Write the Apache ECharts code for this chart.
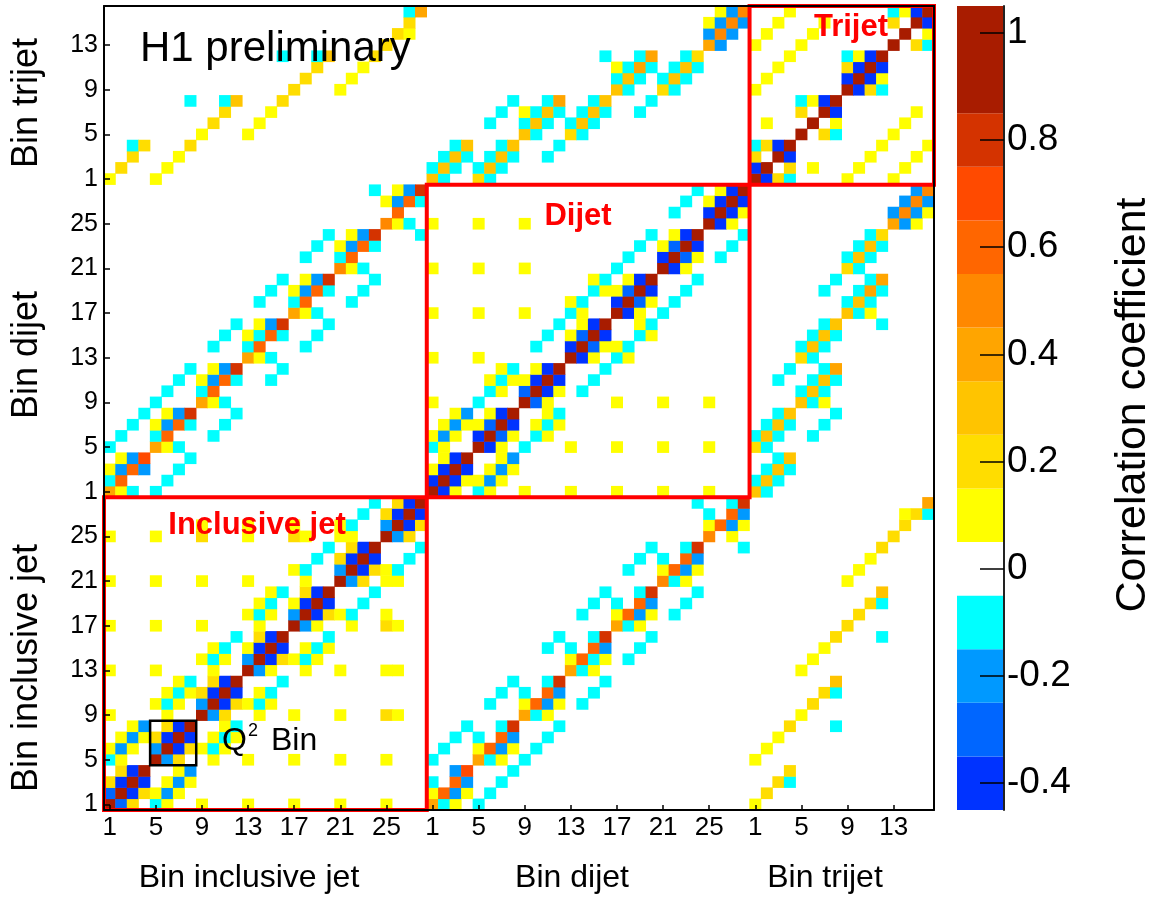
<!DOCTYPE html>
<html><head><meta charset="utf-8">
<script src="https://cdn.jsdelivr.net/npm/echarts@6/dist/echarts.min.js"></script>
<style>html,body{margin:0;padding:0;background:#fff}#c{width:1152px;height:899px}</style>
</head><body><div id="c"></div>
<script>
const FONT = '"Liberation Sans", Arial, Helvetica, sans-serif';

// ---- categories ----
const groupNames = ['inclusive jet', 'dijet', 'trijet'];
const binCounts = [28, 28, 16];
const incTickLabels = ['1', '5', '9', '13', '17', '21', '25'];
const dijTickLabels = ['1', '5', '9', '13', '17', '21', '25'];
const triTickLabels = ['1', '5', '9', '13'];
const q2BoxBins = [5, 8]; // inclusive-jet bins of the highlighted Q^2 bin

// ---- colour scale ----
const colorLevels = [-0.45, -0.35, -0.25, -0.15, -0.05, 0.05, 0.15, 0.25, 0.35, 0.45, 0.55, 0.65, 0.75, 0.85, 1.05];
const colorPalette = ['#0033ff', '#0066ff', '#0099ff', '#00ffff', '#ffffff', '#ffff00', '#ffdd00', '#ffc400', '#ffa500', '#ff8800', '#ff6600', '#ff4a00', '#d43300', '#a81c00'];
const colorbarTickValues = [-0.4, -0.2, 0, 0.2, 0.4, 0.6, 0.8, 1];
const colorbarTickLabels = ['-0.4', '-0.2', '0', '0.2', '0.4', '0.6', '0.8', '1'];

// ---- correlation values: [row bin index, column bin index, value] (0-based within block) ----
// diagonal blocks: lower triangle incl. diagonal (matrix is symmetric)
const incInc = [
 [0,0,1],
 [1,0,-0.3],[1,1,1],
 [2,0,0.2],[2,1,-0.4],[2,2,1],
 [3,1,0.2],[3,2,-0.4],[3,3,1],
 [4,0,-0.1],[4,1,0.1],[4,4,1],
 [5,0,0.1],[5,1,-0.2],[5,2,0.1],[5,4,-0.2],[5,5,1],
 [6,1,0.1],[6,2,-0.2],[6,3,0.1],[6,4,0.2],[6,5,-0.4],[6,6,1],
 [7,2,0.1],[7,3,-0.2],[7,5,0.2],[7,6,-0.4],[7,7,1],
 [8,0,0.1],[8,5,0.1],[8,8,1],
 [9,4,0.1],[9,5,-0.1],[9,6,0.1],[9,8,-0.2],[9,9,1],
 [10,5,0.1],[10,6,-0.1],[10,7,0.1],[10,8,0.2],[10,9,-0.4],[10,10,1],
 [11,6,0.1],[11,7,-0.1],[11,9,0.2],[11,10,-0.4],[11,11,1],
 [12,0,0.1],[12,4,0.1],[12,9,0.1],[12,12,1],
 [13,8,0.1],[13,9,-0.1],[13,10,0.1],[13,12,-0.2],[13,13,1],
 [14,9,0.1],[14,10,-0.1],[14,12,0.1],[14,13,-0.4],[14,14,1],
 [15,11,-0.1],[15,13,0.2],[15,14,-0.4],[15,15,1],
 [16,0,0.1],[16,4,0.1],[16,8,0.1],[16,13,0.1],[16,16,1],
 [17,12,0.1],[17,13,-0.1],[17,14,0.1],[17,16,-0.2],[17,17,1],
 [18,13,0.1],[18,14,-0.1],[18,16,0.1],[18,17,-0.4],[18,18,1],
 [19,14,0.1],[19,15,-0.1],[19,17,0.2],[19,18,-0.4],[19,19,1],
 [20,0,0.1],[20,4,0.1],[20,8,0.1],[20,12,0.1],[20,17,0.1],[20,20,1],
 [21,16,0.1],[21,17,-0.1],[21,20,-0.2],[21,21,1],
 [22,18,-0.1],[22,20,0.2],[22,21,-0.4],[22,22,1],
 [23,19,-0.1],[23,21,0.2],[23,22,-0.4],[23,23,1],
 [24,0,0.1],[24,4,0.1],[24,8,0.2],[24,12,0.1],[24,16,0.2],[24,17,0.1],[24,20,0.1],[24,21,0.1],[24,24,1],
 [25,8,0.1],[25,12,0.1],[25,16,0.1],[25,20,0.1],[25,21,-0.1],[25,24,-0.2],[25,25,1],
 [26,22,-0.1],[26,24,0.2],[26,25,-0.4],[26,26,1],
 [27,23,-0.1],[27,25,0.2],[27,26,-0.4],[27,27,1]
];
const dijDij = [
 [0,0,1],
 [1,0,-0.4],[1,1,1],
 [2,0,0.1],[2,1,-0.4],[2,2,1],
 [3,1,0.1],[3,2,-0.4],[3,3,1],
 [4,0,-0.1],[4,1,0.1],[4,4,1],
 [5,0,0.1],[5,1,-0.2],[5,2,0.1],[5,4,-0.4],[5,5,1],
 [6,1,0.1],[6,2,-0.2],[6,3,0.1],[6,4,0.1],[6,5,-0.3],[6,6,1],
 [7,2,0.1],[7,3,-0.2],[7,5,0.1],[7,6,-0.4],[7,7,1],
 [8,0,0.1],[8,4,-0.1],[8,8,1],
 [9,5,-0.1],[9,6,0.1],[9,8,-0.3],[9,9,1],
 [10,5,0.1],[10,6,-0.1],[10,7,0.1],[10,8,0.1],[10,9,-0.4],[10,10,1],
 [11,6,0.1],[11,7,-0.1],[11,9,0.1],[11,10,-0.4],[11,11,1],
 [12,0,0.1],[12,4,0.1],[12,12,1],
 [13,9,-0.1],[13,12,-0.4],[13,13,1],
 [14,10,-0.1],[14,12,0.1],[14,13,-0.3],[14,14,1],
 [15,11,-0.1],[15,13,0.1],[15,14,-0.4],[15,15,1],
 [16,0,0.1],[16,4,0.1],[16,8,0.1],[16,12,-0.1],[16,13,0.1],[16,16,1],
 [17,12,0.1],[17,13,-0.1],[17,16,-0.4],[17,17,1],
 [18,14,-0.1],[18,15,0.1],[18,16,0.1],[18,17,-0.3],[18,18,1],
 [19,14,0.1],[19,15,-0.1],[19,17,0.1],[19,18,-0.4],[19,19,1],
 [20,0,0.1],[20,4,0.1],[20,8,0.1],[20,16,-0.1],[20,20,1],
 [21,17,-0.1],[21,20,-0.4],[21,21,1],
 [22,18,-0.1],[22,20,0.1],[22,21,-0.3],[22,22,1],
 [23,19,-0.1],[23,21,0.1],[23,22,-0.4],[23,23,1],
 [24,0,0.1],[24,4,0.1],[24,8,0.1],[24,24,1],
 [25,21,-0.1],[25,24,-0.4],[25,25,1],
 [26,22,-0.1],[26,24,0.1],[26,25,-0.4],[26,26,1],
 [27,23,-0.1],[27,25,0.1],[27,26,-0.4],[27,27,1]
];
const triTri = [
 [0,0,1],
 [1,0,-0.4],[1,1,1],
 [2,0,0.2],[2,2,1],
 [3,0,-0.1],[3,1,0.2],[3,2,-0.4],[3,3,1],
 [4,4,1],
 [5,1,0.1],[5,5,1],
 [6,4,0.2],[6,6,1],
 [7,4,-0.1],[7,5,0.1],[7,6,-0.4],[7,7,1],
 [8,0,0.1],[8,8,1],
 [9,1,0.1],[9,8,-0.4],[9,9,1],
 [10,2,0.1],[10,8,0.2],[10,9,-0.4],[10,10,1],
 [11,3,0.1],[11,8,-0.1],[11,9,0.1],[11,10,-0.4],[11,11,1],
 [12,0,0.1],[12,4,0.1],[12,12,1],
 [13,1,0.1],[13,5,0.1],[13,13,1],
 [14,2,0.1],[14,6,0.1],[14,12,0.2],[14,14,1],
 [15,3,0.1],[15,12,-0.1],[15,13,0.1],[15,14,-0.4],[15,15,1]
];
// off-diagonal blocks: [inclusive bin, dijet bin, value] etc.
const incDij = [
 [0,0,0.4],[0,1,-0.1],[0,2,0.1],[0,4,-0.1],
 [1,0,0.1],[1,1,0.6],[1,2,-0.2],[1,3,0.1],[1,5,-0.1],
 [2,0,-0.1],[2,2,0.6],[2,3,-0.2],[2,6,-0.1],
 [3,2,-0.2],[3,3,0.7],[3,7,-0.1],
 [4,0,-0.1],[4,4,0.4],[4,5,-0.1],[4,6,0.1],[4,8,-0.1],
 [5,1,-0.1],[5,4,0.1],[5,5,0.6],[5,6,-0.2],[5,7,0.1],[5,9,-0.1],
 [6,2,-0.1],[6,4,-0.1],[6,6,0.6],[6,7,-0.2],[6,10,-0.1],
 [7,3,-0.1],[7,6,-0.1],[7,7,0.8],[7,11,-0.1],
 [8,8,0.4],[8,9,-0.1],[8,10,0.1],
 [9,5,-0.1],[9,8,0.1],[9,9,0.6],[9,10,-0.2],[9,11,0.1],[9,13,-0.1],
 [10,6,-0.1],[10,8,-0.1],[10,10,0.6],[10,11,-0.2],[10,14,-0.1],
 [11,7,-0.1],[11,10,-0.1],[11,11,0.8],[11,15,-0.1],
 [12,12,0.4],[12,13,-0.1],[12,14,0.1],
 [13,12,0.1],[13,13,0.6],[13,14,-0.1],[13,15,0.1],[13,17,-0.1],
 [14,10,-0.1],[14,12,-0.1],[14,14,0.6],[14,15,-0.2],[14,18,-0.1],
 [15,11,-0.1],[15,14,-0.1],[15,15,0.8],[15,19,-0.1],
 [16,16,0.4],[16,17,-0.1],[16,18,0.1],
 [17,13,-0.1],[17,16,0.1],[17,17,0.6],[17,18,-0.2],[17,19,0.1],[17,21,-0.1],
 [18,14,-0.1],[18,16,-0.1],[18,18,0.6],[18,19,-0.2],[18,22,-0.1],
 [19,15,-0.1],[19,18,-0.1],[19,19,0.8],[19,23,-0.1],
 [20,20,0.5],[20,21,-0.1],[20,22,0.1],
 [21,17,-0.1],[21,20,0.1],[21,21,0.6],[21,22,-0.2],[21,23,0.1],
 [22,18,-0.1],[22,20,-0.1],[22,22,0.6],[22,23,-0.2],
 [23,19,-0.1],[23,22,-0.1],[23,23,0.8],[23,27,-0.1],
 [24,24,0.5],[24,26,0.1],
 [25,24,0.1],[25,25,0.6],[25,26,-0.2],[25,27,0.1],
 [26,24,-0.1],[26,26,0.6],[26,27,-0.2],
 [27,23,-0.1],[27,26,-0.1],[27,27,0.8]
];
const incTri = [
 [0,0,0.1],[1,1,0.2],[2,2,0.2],[2,3,-0.1],[3,3,0.2],
 [4,0,0.1],[5,1,0.1],[6,2,0.1],[7,3,0.2],[7,7,-0.1],
 [8,4,0.1],[9,5,0.2],[10,6,0.2],[10,7,-0.1],[11,7,0.3],
 [12,4,0.1],[13,5,0.1],[14,6,0.1],[15,7,0.2],[15,11,-0.1],
 [16,8,0.2],[17,9,0.2],[18,10,0.2],[18,11,-0.1],[19,11,0.3],
 [20,8,0.1],[21,9,0.1],[22,10,0.1],[23,11,0.2],
 [24,12,0.2],[25,13,0.2],[26,13,0.1],[26,14,0.2],[26,15,-0.1],[27,15,0.4]
];
const dijTri = [
 [0,0,0.3],[0,1,-0.1],
 [1,0,-0.1],[1,1,0.3],[1,2,-0.1],
 [2,1,-0.1],[2,2,0.3],[2,3,-0.1],
 [3,2,-0.1],[3,3,0.3],
 [4,0,0.2],[4,1,-0.1],
 [5,0,-0.1],[5,1,0.3],[5,2,-0.1],[5,5,-0.1],
 [6,1,-0.1],[6,2,0.3],[6,3,-0.1],[6,6,-0.1],
 [7,2,-0.1],[7,3,0.3],[7,7,-0.1],
 [8,4,0.3],[8,5,-0.1],[8,6,0.1],
 [9,4,-0.1],[9,5,0.3],[9,6,-0.1],
 [10,2,-0.1],[10,5,-0.1],[10,6,0.3],[10,7,-0.1],
 [11,3,-0.1],[11,6,-0.1],[11,7,0.4],
 [12,4,0.2],[12,5,-0.1],
 [13,4,-0.1],[13,5,0.3],[13,6,-0.1],
 [14,5,-0.1],[14,6,0.3],[14,7,-0.1],
 [15,6,-0.1],[15,7,0.3],[15,11,-0.1],
 [16,8,0.3],[16,9,-0.1],[16,10,0.1],
 [17,8,-0.1],[17,9,0.3],[17,10,-0.1],
 [18,6,-0.1],[18,9,-0.1],[18,10,0.4],[18,11,-0.1],
 [19,7,-0.1],[19,10,-0.1],[19,11,0.4],
 [20,8,0.2],[20,9,-0.1],
 [21,8,-0.1],[21,9,0.3],[21,10,-0.1],
 [22,9,-0.1],[22,10,0.3],[22,11,-0.1],
 [23,10,-0.1],[23,11,0.2],
 [24,12,0.4],[24,13,-0.2],[24,14,0.1],
 [25,12,-0.2],[25,13,0.5],[25,14,-0.2],[25,15,0.1],
 [26,13,-0.2],[26,14,0.5],[26,15,-0.2],
 [27,14,-0.2],[27,15,0.5]
];

// ---- build categories, labels and symmetric cell list ----
const offsets = [];
let acc = 0;
binCounts.forEach(n => { offsets.push(acc); acc += n; });
const cats = [];
groupNames.forEach((g, gi) => { for (let b = 1; b <= binCounts[gi]; b++) cats.push(g + ' ' + b); });
const labelAt = {};
[incTickLabels, dijTickLabels, triTickLabels].forEach((arr, gi) => {
  arr.forEach(l => { labelAt[offsets[gi] + parseInt(l, 10) - 1] = l; });
});
const cellMap = new Map();
function put(x, y, v) { cellMap.set(x + ',' + y, [x, y, v]); }
function addBlock(list, rowGroup, colGroup) {
  const ro = offsets[rowGroup], co = offsets[colGroup];
  list.forEach(([r, c, v]) => { put(co + c, ro + r, v); put(ro + r, co + c, v); });
}
addBlock(incInc, 0, 0); addBlock(dijDij, 1, 1); addBlock(triTri, 2, 2);
addBlock(incDij, 0, 1); addBlock(incTri, 0, 2); addBlock(dijTri, 1, 2);
const cells = Array.from(cellMap.values());

const boxes = binCounts.map((n, gi) => [offsets[gi], offsets[gi], offsets[gi] + n - 1, offsets[gi] + n - 1, 0]);
boxes.push([q2BoxBins[0] - 1, q2BoxBins[0] - 1, q2BoxBins[1] - 1, q2BoxBins[1] - 1, 1]);

const pieces = colorPalette.map((c, i) => ({ gte: colorLevels[i], lt: colorLevels[i + 1], color: c }));
pieces[pieces.length - 1].lte = colorLevels[colorLevels.length - 1];
delete pieces[pieces.length - 1].lt;
const bands = colorPalette.map((c, i) => [0, colorLevels[i], colorLevels[i + 1], i]);

const showTick = idx => labelAt[idx] !== undefined;
const black = '#000';

const chart = echarts.init(document.getElementById('c'), null, { renderer: 'canvas' });
chart.setOption({
  animation: false,
  backgroundColor: '#fff',
  textStyle: { fontFamily: FONT },
  grid: [
    { left: 104, top: 6, width: 830, height: 804 },
    { left: 957, top: 6, width: 47, height: 804 }
  ],
  xAxis: [
    { type: 'category', gridIndex: 0, data: cats, position: 'bottom', z: 10,
      axisLine: { lineStyle: { color: black, width: 2 } },
      axisTick: { show: true, inside: true, length: 5, alignWithLabel: true, interval: showTick, lineStyle: { color: black, width: 1.5 } },
      axisLabel: { interval: showTick, formatter: (v, i) => labelAt[i] || '', fontSize: 26, margin: 5, color: black, fontFamily: FONT },
      splitLine: { show: false } },
    { type: 'category', gridIndex: 0, data: cats, position: 'top', z: 10,
      axisLine: { lineStyle: { color: black, width: 2 } }, axisTick: { show: false }, axisLabel: { show: false } },
    { type: 'category', gridIndex: 1, data: ['scale'], show: false }
  ],
  yAxis: [
    { type: 'category', gridIndex: 0, data: cats, position: 'left', z: 10,
      axisLine: { lineStyle: { color: black, width: 2 } },
      axisTick: { show: true, inside: true, length: 6, alignWithLabel: true, interval: showTick, lineStyle: { color: black, width: 1.5 } },
      axisLabel: { interval: showTick, formatter: (v, i) => labelAt[i] || '', fontSize: 25, margin: 6, color: black, fontFamily: FONT },
      splitLine: { show: false } },
    { type: 'category', gridIndex: 0, data: cats, position: 'right', z: 10,
      axisLine: { lineStyle: { color: black, width: 2 } }, axisTick: { show: false }, axisLabel: { show: false } },
    { type: 'value', gridIndex: 1, min: colorLevels[0], max: colorLevels[colorLevels.length - 1], position: 'right', z: 10,
      axisLine: { show: true, lineStyle: { color: '#222', width: 2 } },
      axisTick: { show: true, inside: true, length: 24, customValues: colorbarTickValues, lineStyle: { color: black, width: 1.5 } },
      axisLabel: { customValues: colorbarTickValues, color: black, fontSize: 37, margin: 3, fontFamily: FONT,
        formatter: v => { const k = colorbarTickValues.findIndex(t => Math.abs(t - v) < 1e-6); return k >= 0 ? colorbarTickLabels[k] : ''; } },
      splitLine: { show: false } }
  ],
  visualMap: {
    type: 'piecewise', show: false, seriesIndex: 0, dimension: 2, pieces: pieces
  },
  series: [
    { type: 'heatmap', xAxisIndex: 0, yAxisIndex: 0, data: cells, z: 2,
      itemStyle: { borderWidth: 0 }, emphasis: { disabled: true }, progressive: 0 },
    { type: 'custom', xAxisIndex: 0, yAxisIndex: 0, data: boxes, z: 5, silent: true,
      encode: { x: [0, 2], y: [1, 3] },
      renderItem: (params, api) => {
        const a = api.coord([api.value(0), api.value(1)]);
        const b = api.coord([api.value(2), api.value(3)]);
        const s = api.size([1, 1]);
        const isBlack = api.value(4) === 1;
        return { type: 'rect',
          shape: { x: a[0] - s[0] / 2, y: b[1] - s[1] / 2, width: b[0] - a[0] + s[0], height: a[1] - b[1] + s[1] },
          style: { fill: 'none', stroke: isBlack ? '#000' : '#ff0000', lineWidth: isBlack ? 2.5 : 4 } };
      } },
    { type: 'custom', xAxisIndex: 2, yAxisIndex: 2, data: bands, z: 2, silent: true,
      encode: { x: 0, y: [1, 2] },
      renderItem: (params, api) => {
        const p1 = api.coord([0, api.value(2)]);
        const p2 = api.coord([0, api.value(1)]);
        const w = api.size([1, 0])[0];
        return { type: 'rect', shape: { x: p1[0] - w / 2, y: p1[1], width: w, height: p2[1] - p1[1] },
          style: { fill: colorPalette[api.value(3)], stroke: null } };
      } }
  ],
  graphic: [
    { type: 'text', x: 140, y: 49, z: 20, style: { text: 'H1 preliminary', font: '42px ' + FONT, fill: '#000', align: 'left', verticalAlign: 'middle' } },
    { type: 'text', x: 257, y: 525, z: 20, style: { text: 'Inclusive jet', font: 'bold 31px ' + FONT, fill: '#ff0000', align: 'center', verticalAlign: 'middle' } },
    { type: 'text', x: 578, y: 216, z: 20, style: { text: 'Dijet', font: 'bold 31px ' + FONT, fill: '#ff0000', align: 'center', verticalAlign: 'middle' } },
    { type: 'text', x: 851, y: 27, z: 20, style: { text: 'Trijet', font: 'bold 31px ' + FONT, fill: '#ff0000', align: 'center', verticalAlign: 'middle' } },
    { type: 'text', x: 222, y: 741, z: 20, style: { text: 'Q', font: '32px ' + FONT, fill: '#000', align: 'left', verticalAlign: 'middle' } },
    { type: 'text', x: 248, y: 731, z: 20, style: { text: '2', font: '18px ' + FONT, fill: '#000', align: 'left', verticalAlign: 'middle' } },
    { type: 'text', x: 271, y: 741, z: 20, style: { text: 'Bin', font: '32px ' + FONT, fill: '#000', align: 'left', verticalAlign: 'middle' } },
    { type: 'text', x: 249, y: 878, style: { text: 'Bin inclusive jet', font: '32px ' + FONT, fill: '#000', align: 'center', verticalAlign: 'middle' } },
    { type: 'text', x: 572, y: 878, style: { text: 'Bin dijet', font: '32px ' + FONT, fill: '#000', align: 'center', verticalAlign: 'middle' } },
    { type: 'text', x: 825, y: 878, style: { text: 'Bin trijet', font: '32px ' + FONT, fill: '#000', align: 'center', verticalAlign: 'middle' } },
    { type: 'text', x: 27, y: 103, rotation: Math.PI / 2, style: { text: 'Bin trijet', font: '36px ' + FONT, fill: '#000', align: 'center', verticalAlign: 'middle' } },
    { type: 'text', x: 27, y: 355, rotation: Math.PI / 2, style: { text: 'Bin dijet', font: '36px ' + FONT, fill: '#000', align: 'center', verticalAlign: 'middle' } },
    { type: 'text', x: 27, y: 668, rotation: Math.PI / 2, style: { text: 'Bin inclusive jet', font: '36px ' + FONT, fill: '#000', align: 'center', verticalAlign: 'middle' } },
    { type: 'text', x: 1133, y: 405, rotation: Math.PI / 2, style: { text: 'Correlation coefficient', font: '43px ' + FONT, fill: '#000', align: 'center', verticalAlign: 'middle' } }
  ]
});
</script>
</body></html>
